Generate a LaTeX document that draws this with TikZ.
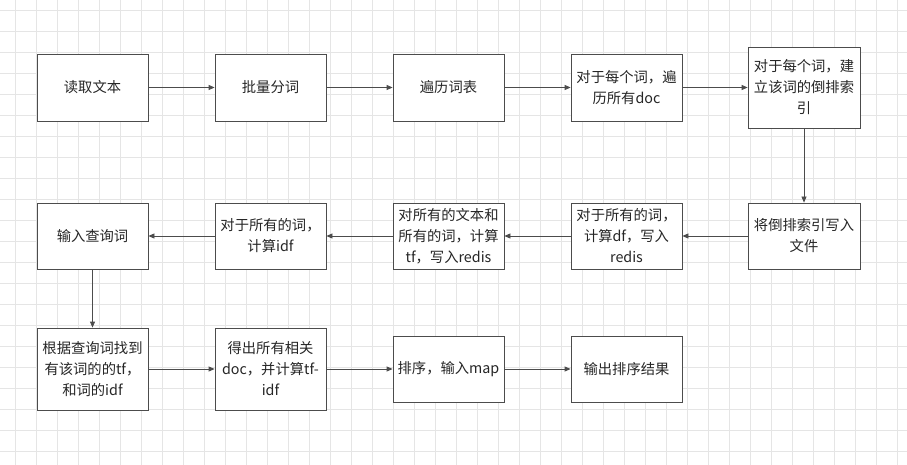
\documentclass[tikz,border=0pt]{standalone}
\usepackage{fontspec}
\setmainfont{Noto Sans CJK SC}
\usetikzlibrary{arrows.meta}
\begin{document}
\begin{tikzpicture}[x=1pt,y=-1pt,
  box/.style={draw=black!70,line width=0.8pt,fill=white,align=center,inner sep=0pt,font=\fontsize{14.3}{21}\selectfont,text=black!85},
  arr/.style={draw=black!70,line width=0.8pt,-{Triangle[length=6pt,width=5pt]}}]
\fill[white] (0,0) rectangle (907,465);
\useasboundingbox (0,0) rectangle (907,465);
\foreach \yy in {10,31,52,73,94,115,136,157,178,199,220,241,262,283,304,325,346,367,388,409,430,451}
  \draw[black!10,line width=0.6pt] (0,\yy) -- (907,\yy);
\foreach \xx in {15,36,...,900}
  \draw[black!10,line width=0.6pt] (\xx,0) -- (\xx,465);
% row 1
\node[box,minimum width=111,minimum height=67] (a1) at (92.5,87.5) {读取文本};
\node[box,minimum width=111,minimum height=67] (a2) at (270.5,87.5) {批量分词};
\node[box,minimum width=111,minimum height=67] (a3) at (448.5,87.5) {遍历词表};
\node[box,minimum width=111,minimum height=67] (a4) at (626.5,87.5) {对于每个词，遍\\历所有doc};
\node[box,minimum width=112,minimum height=81] (a5) at (804,87.5) {对于每个词，建\\立该词的倒排索\\引};
% row 2
\node[box,minimum width=112,minimum height=66] (b5) at (804,236) {将倒排索引写入\\文件};
\node[box,minimum width=111,minimum height=66] (b4) at (626.5,236) {对于所有的词，\\计算df，写入\\redis};
\node[box,minimum width=111,minimum height=66] (b3) at (448.5,236) {对所有的文本和\\所有的词，计算\\tf，写入redis};
\node[box,minimum width=111,minimum height=66] (b2) at (270.5,236) {对于所有的词，\\计算idf};
\node[box,minimum width=111,minimum height=66] (b1) at (92.5,236) {输入查询词};
% row 3
\node[box,minimum width=111,minimum height=82] (c1) at (92.5,369) {根据查询词找到\\有该词的的tf，\\和词的idf};
\node[box,minimum width=111,minimum height=82] (c2) at (270.5,369) {得出所有相关\\doc，并计算tf-\\idf};
\node[box,minimum width=111,minimum height=66] (c3) at (448.5,369) {排序，输入map};
\node[box,minimum width=111,minimum height=66] (c4) at (626.5,369) {输出排序结果};
\draw[arr] (a1) -- (a2);
\draw[arr] (a2) -- (a3);
\draw[arr] (a3) -- (a4);
\draw[arr] (a4) -- (a5);
\draw[arr] (a5) -- (b5);
\draw[arr] (b5) -- (b4);
\draw[arr] (b4) -- (b3);
\draw[arr] (b3) -- (b2);
\draw[arr] (b2) -- (b1);
\draw[arr] (b1) -- (c1);
\draw[arr] (c1) -- (c2);
\draw[arr] (c2) -- (c3);
\draw[arr] (c3) -- (c4);
\end{tikzpicture}
\end{document}
